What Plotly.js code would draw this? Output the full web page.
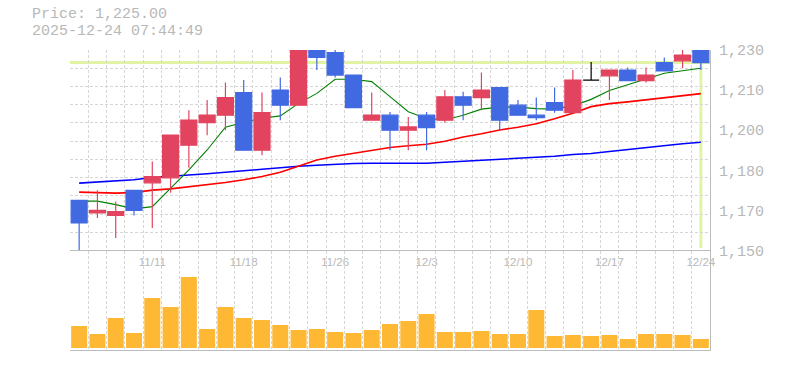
<!DOCTYPE html>
<html><head><meta charset="utf-8">
<script src="https://cdn.plot.ly/plotly-3.0.1.min.js"></script>
<style>html,body{margin:0;padding:0;background:#fff}#chart{width:785px;height:370px}</style>
</head><body><div id="chart"></div>
<script>
const dates = ["11/5","11/6","11/7","11/10","11/11","11/12","11/13","11/14","11/17","11/18",
  "11/19","11/20","11/21","11/25","11/26","11/27","11/28","12/1","12/2","12/3",
  "12/4","12/5","12/8","12/9","12/10","12/11","12/12","12/15","12/16","12/17",
  "12/18","12/19","12/22","12/23","12/24"];
const openP  = [1170,1165,1164,1174,1177,1179,1192,1201,1204,1213,
  1190,1214,1208,1230,1229,1220,1202,1204,1198,1204,
  1202,1211.3,1211,1215,1208,1204,1209,1205,1218,1219.7,
  1222,1217.8,1225,1225.7,1231];
const highP  = [1170,1174,1169.5,1174,1185.5,1196,1206,1210,1217,1218,
  1213,1219,1230,1230,1230,1220,1213,1205.3,1203.3,1205.3,
  1214,1213.3,1221,1215,1210,1211,1215,1222,1225.2,1222,
  1223,1223,1227,1230,1231];
const lowP   = [1150,1163,1155,1164,1159,1173,1183,1196,1198,1190,
  1188,1202,1208,1222,1219,1207,1202,1190,1190,1190,
  1201,1202,1206,1198,1204,1202,1205,1205,1218,1210,
  1218,1217,1221.7,1222.8,1222];
const closeP = [1161,1166,1165.5,1166,1179.5,1196,1202,1204,1211,1190,
  1205,1208,1230,1227,1220,1207,1204,1198,1199.3,1199,
  1211.3,1208,1214,1202,1204,1203,1206,1218,1218,1222,
  1217.8,1220,1221.7,1228,1225];
const volume = [22,14,30,15,50,41,71,19,41,30,
  28,23,18,19,16,15,18,24,27,34,
  16,16,17,14,14,38,12,13,12,13,
  9,14,14,13,9].map(v => v * 1000);
const ma5  = [1169.7,1169.7,1168.3,1166.6,1167.5,1174.9,1182.2,1190.1,1199.2,1201.2,
  1202.8,1203.7,1208.7,1212.7,1218.3,1218.3,1217.4,1211.4,1205.4,1202.7,
  1202.1,1204.0,1206.4,1207.2,1207.2,1206.6,1206.4,1207.7,1210.3,1213.8,
  1216.0,1218.3,1220.7,1221.7,1222.7];
const ma25 = [1173.3,1173.0,1172.9,1173.1,1174.1,1174.6,1175.4,1176.1,1177.1,1178.2,
  1179.5,1181.2,1183.8,1186.1,1187.6,1188.8,1190.0,1191.1,1191.8,1192.4,
  1193.6,1195.3,1196.6,1198.1,1199.2,1200.6,1202.6,1204.8,1207.4,1208.6,
  1209.3,1210.1,1210.7,1211.7,1212.6];
const ma75 = [1176.9,1177.3,1177.7,1178.2,1179.1,1179.5,1180.1,1180.6,1181.1,1181.8,
  1182.4,1183.1,1183.6,1184.0,1184.4,1184.7,1184.8,1184.8,1184.8,1184.8,
  1185.2,1185.6,1186.0,1186.4,1186.8,1187.2,1187.6,1188.3,1188.7,1189.5,
  1190.3,1190.9,1192.0,1192.6,1193.2];
const xTickLabels = ["11/11","11/18","11/26","12/3","12/10","12/17","12/24"];
const yTickLabels = ["1,150","1,170","1,180","1,200","1,210","1,230"];
const priceHeader = "Price: 1,225.00";
const timeHeader = "2025-12-24 07:44:49";

const yMin = 1150, yMax = 1230;
const yTickVals = yTickLabels.map((_, i) => yMin + i * (yMax - yMin) / (yTickLabels.length - 1));
const gridColor = "#d6d6d6";
const axisColor = "#bcbcbc";
const textColor = "#b8b8b8";
const upColor = "#e2445f", downColor = "#4169e1";

const normIdx = dates.map((_, i) => i).filter(i => openP[i] !== closeP[i]);
const dojiIdx = dates.map((_, i) => i).filter(i => openP[i] === closeP[i]);
const pick = (arr, idx) => idx.map(i => arr[i]);
const lastDate = dates[dates.length - 1];
const lastClose = closeP[closeP.length - 1];

const traces = [
  {type: "scatter", mode: "lines", x: dates, y: ma75, xaxis: "x", yaxis: "y",
   line: {color: "#0000ff", width: 1.6}, hoverinfo: "skip"},
  {type: "scatter", mode: "lines", x: dates, y: ma25, xaxis: "x", yaxis: "y",
   line: {color: "#ff0000", width: 1.6}, hoverinfo: "skip"},
  {type: "scatter", mode: "lines", x: dates, y: ma5, xaxis: "x", yaxis: "y",
   line: {color: "#008000", width: 1.1}, hoverinfo: "skip"},
  {type: "candlestick", x: pick(dates, normIdx), open: pick(openP, normIdx), high: pick(highP, normIdx),
   low: pick(lowP, normIdx), close: pick(closeP, normIdx), xaxis: "x", yaxis: "y3",
   increasing: {fillcolor: upColor, line: {color: upColor, width: 1.2}},
   decreasing: {fillcolor: downColor, line: {color: downColor, width: 1.2}}, hoverinfo: "skip"},
  {type: "candlestick", x: pick(dates, dojiIdx), open: pick(openP, dojiIdx), high: pick(highP, dojiIdx),
   low: pick(lowP, dojiIdx), close: pick(closeP, dojiIdx), xaxis: "x", yaxis: "y3",
   increasing: {fillcolor: "#000", line: {color: "#000", width: 1.2}},
   decreasing: {fillcolor: "#000", line: {color: "#000", width: 1.2}}, hoverinfo: "skip"},
  {type: "bar", x: dates, y: volume, xaxis: "x2", yaxis: "y2",
   marker: {color: "#ffb833", line: {width: 0}}, hoverinfo: "skip"}
];

const xCommon = {
  type: "category", categoryorder: "array", categoryarray: dates,
  range: [-0.5, dates.length - 0.5], tickmode: "array", tickvals: dates,
  ticktext: dates.map(d => xTickLabels.includes(d) ? d : ""),
  tickson: "boundaries", ticks: "", tickangle: 0, showgrid: true, gridcolor: gridColor, griddash: "3px,2px",
  gridwidth: 1, showline: true, linecolor: axisColor, linewidth: 1, zeroline: false,
  rangeslider: {visible: false}, fixedrange: true
};

const layout = {
  width: 785, height: 370,
  margin: {l: 70, r: 75, t: 50, b: 20, pad: 0},
  paper_bgcolor: "#fff", plot_bgcolor: "#fff",
  showlegend: false, hovermode: false,
  boxgap: 0.125, boxgroupgap: 0, bargap: 0.125,
  xaxis: Object.assign({}, xCommon, {anchor: "y", showticklabels: true,
    tickfont: {family: "Liberation Sans, Arial, sans-serif", size: 11.5, color: textColor},
    ticklabelshift: 4.5, ticklabelstandoff: 1}),
  xaxis2: Object.assign({}, xCommon, {anchor: "y2", showticklabels: false}),
  yaxis: {domain: [0.3317, 1], range: [yMin, yMax], side: "right", anchor: "x",
    tickmode: "linear", tick0: yMin, dtick: (yMax - yMin) / 11, showticklabels: false, ticks: "",
    showgrid: true, gridcolor: gridColor, griddash: "3px,2px", gridwidth: 1,
    showline: true, linecolor: axisColor, linewidth: 1, zeroline: false, fixedrange: true},
  yaxis3: {overlaying: "y", anchor: "x", side: "right", range: [yMin, yMax],
    tickmode: "array", tickvals: yTickVals, ticktext: yTickLabels, ticks: "",
    tickfont: {family: "Liberation Mono, Courier New, monospace", size: 15, color: textColor},
    ticklabelstandoff: 8, ticklabelshift: 3.5, showgrid: false, showline: false, zeroline: false, fixedrange: true},
  yaxis2: {domain: [0, 0.33], range: [-2000, 97000], side: "right", anchor: "x2",
    showticklabels: false, ticks: "", showgrid: false, showline: true, linecolor: axisColor,
    linewidth: 1, zeroline: false, fixedrange: true},
  shapes: [
    {type: "line", layer: "below", xref: "paper", yref: "y", x0: 0, x1: 1, y0: lastClose, y1: lastClose,
     line: {color: "#e1f4a4", width: 3}},
    {type: "line", layer: "below", xref: "x", yref: "y", x0: lastDate, x1: lastDate, y0: yMin + 1, y1: lastClose,
     line: {color: "#e1f4a4", width: 3}}
  ],
  annotations: [
    {xref: "paper", yref: "paper", x: -40 / 640, y: (350 - 15) / 300, xanchor: "left", yanchor: "middle",
     text: priceHeader, showarrow: false,
     font: {family: "Liberation Mono, Courier New, monospace", size: 15, color: textColor}},
    {xref: "paper", yref: "paper", x: -40 / 640, y: (350 - 31) / 300, xanchor: "left", yanchor: "middle",
     text: timeHeader, showarrow: false,
     font: {family: "Liberation Mono, Courier New, monospace", size: 15, color: textColor}}
  ]
};

Plotly.newPlot("chart", traces, layout, {staticPlot: true, displayModeBar: false});
</script></body></html>
